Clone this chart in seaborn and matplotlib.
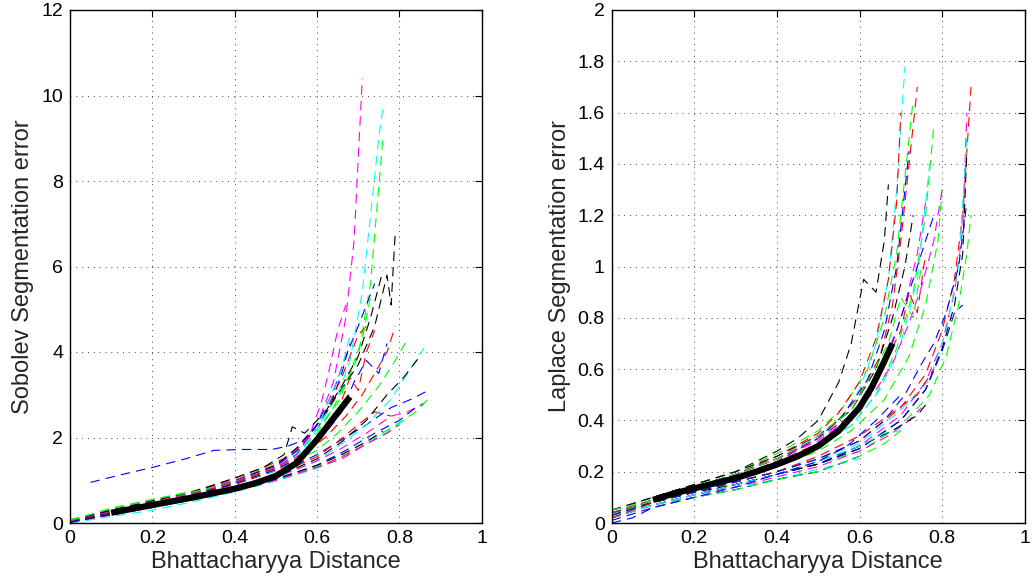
import numpy as np
import pandas as pd
import matplotlib
matplotlib.use("Agg")
import matplotlib.pyplot as plt
import seaborn as sns

# ---------------- data ----------------
x_ticks = [0, 0.2, 0.4, 0.6, 0.8, 1]
x_tick_labels = ["0", "0.2", "0.4", "0.6", "0.8", "1"]
sob_y_ticks = [0, 2, 4, 6, 8, 10, 12]
sob_y_tick_labels = ["0", "2", "4", "6", "8", "10", "12"]
lap_y_ticks = [0, 0.2, 0.4, 0.6, 0.8, 1, 1.2, 1.4, 1.6, 1.8, 2]
lap_y_tick_labels = ["0", "0.2", "0.4", "0.6", "0.8", "1", "1.2", "1.4", "1.6", "1.8", "2"]

x_label = "Bhattacharyya Distance"
sob_label = "Sobolev Segmentation error"
lap_label = "Laplace Segmentation error"

# Sobolev runs
sob_x = [
    [0.05, 0.12, 0.2, 0.28, 0.35, 0.42, 0.49, 0.53, 0.57, 0.6, 0.63, 0.66, 0.68],
    [0, 0.05, 0.1, 0.2, 0.3, 0.4, 0.5, 0.55, 0.6, 0.65, 0.7, 0.73, 0.76],
    [0, 0.1, 0.2, 0.3, 0.4, 0.47, 0.53, 0.58, 0.62, 0.66, 0.7, 0.72],
    [0, 0.1, 0.2, 0.3, 0.4, 0.5, 0.56, 0.6, 0.65, 0.68, 0.71, 0.73, 0.75, 0.76],
    [0, 0.1, 0.2, 0.3, 0.4, 0.5, 0.55, 0.6, 0.64, 0.67, 0.69, 0.7, 0.71],
    [0, 0.1, 0.2, 0.3, 0.4, 0.5, 0.55, 0.6, 0.65, 0.7, 0.74, 0.77, 0.78, 0.79],
    [0, 0.1, 0.2, 0.3, 0.4, 0.5, 0.56, 0.6, 0.64, 0.67, 0.7, 0.72, 0.74],
    [0, 0.1, 0.2, 0.3, 0.4, 0.5, 0.55, 0.6, 0.64, 0.68, 0.71, 0.73],
    [0, 0.1, 0.2, 0.3, 0.4, 0.5, 0.56, 0.62, 0.67, 0.71, 0.74, 0.77, 0.79],
    [0, 0.1, 0.2, 0.3, 0.4, 0.5, 0.56, 0.6, 0.63, 0.66, 0.68],
    [0, 0.1, 0.2, 0.3, 0.4, 0.5, 0.55, 0.58, 0.61, 0.63, 0.65, 0.67],
    [0, 0.1, 0.2, 0.3, 0.4, 0.47, 0.52, 0.54, 0.57, 0.62, 0.66, 0.7, 0.73, 0.76],
    [0, 0.1, 0.2, 0.3, 0.4, 0.5, 0.6, 0.66, 0.72, 0.78, 0.83, 0.87],
    [0, 0.1, 0.2, 0.3, 0.4, 0.5, 0.6, 0.65, 0.7, 0.75, 0.79, 0.82],
    [0, 0.1, 0.2, 0.3, 0.4, 0.5, 0.6, 0.65, 0.7, 0.74, 0.78],
    [0, 0.1, 0.2, 0.3, 0.4, 0.5, 0.6, 0.66, 0.72, 0.78, 0.82, 0.86],
    [0, 0.1, 0.2, 0.3, 0.4, 0.5, 0.6, 0.66, 0.72, 0.78, 0.82, 0.84],
    [0, 0.1, 0.2, 0.3, 0.4, 0.5, 0.6, 0.66, 0.72, 0.77, 0.81, 0.85],
    [0, 0.1, 0.2, 0.3, 0.4, 0.5, 0.6, 0.67, 0.74, 0.8, 0.84, 0.86],
    [0, 0.1, 0.2, 0.3, 0.4, 0.5, 0.6, 0.68, 0.75, 0.8, 0.84, 0.87],
    [0, 0.1, 0.2, 0.3, 0.4, 0.5, 0.6, 0.66, 0.72, 0.77, 0.8],
    [0, 0.1, 0.2, 0.3, 0.4, 0.5, 0.6, 0.67, 0.73, 0.78, 0.82],
    [0, 0.1, 0.2, 0.3, 0.4, 0.5, 0.6, 0.66, 0.72, 0.76],
    [0, 0.1, 0.2, 0.3, 0.4, 0.5, 0.6, 0.66, 0.72, 0.76],
    [0, 0.1, 0.2, 0.3, 0.4, 0.5, 0.56, 0.61, 0.65, 0.68, 0.7, 0.72, 0.74],
    [0, 0.1, 0.2, 0.3, 0.4, 0.5, 0.57, 0.62, 0.66, 0.69, 0.72, 0.75, 0.77],
]
sob_y = [
    [0.95, 1.12, 1.3, 1.5, 1.7, 1.72, 1.72, 1.8, 1.95, 2.2, 2.7, 3.5, 4.2],
    [0.08, 0.2, 0.33, 0.55, 0.75, 1.0, 1.38, 1.7, 2.2, 2.8, 3.9, 5.6, 9.0],
    [0.02, 0.28, 0.5, 0.72, 1.05, 1.3, 1.55, 2.0, 2.6, 3.4, 4.4, 4.6],
    [0.03, 0.26, 0.47, 0.68, 0.95, 1.28, 1.65, 2.2, 3.0, 3.8, 5.4, 7.2, 9.0, 9.7],
    [0.05, 0.3, 0.5, 0.72, 1.0, 1.35, 1.7, 2.3, 3.3, 4.8, 6.6, 8.5, 10.4],
    [0.04, 0.27, 0.49, 0.7, 0.98, 1.35, 1.75, 2.3, 3.0, 3.7, 4.6, 5.8, 5.1, 6.8],
    [0.03, 0.25, 0.46, 0.67, 0.95, 1.32, 1.75, 2.3, 3.1, 3.9, 4.6, 5.1, 5.6],
    [0.05, 0.27, 0.48, 0.7, 0.97, 1.3, 1.6, 2.1, 2.7, 3.5, 4.3, 5.3],
    [0.03, 0.24, 0.44, 0.65, 0.9, 1.22, 1.55, 2.0, 2.5, 3.0, 3.5, 4.0, 4.6],
    [0.02, 0.25, 0.46, 0.68, 0.96, 1.3, 1.7, 2.2, 2.9, 3.6, 4.4],
    [0.04, 0.29, 0.5, 0.7, 0.97, 1.3, 1.6, 2.0, 2.8, 3.6, 4.5, 5.1],
    [0.05, 0.3, 0.52, 0.74, 1.05, 1.3, 1.6, 2.25, 2.1, 2.6, 3.2, 3.9, 4.8, 5.9],
    [0.02, 0.22, 0.4, 0.6, 0.84, 1.12, 1.6, 1.95, 2.3, 2.7, 2.9, 3.1],
    [0.05, 0.35, 0.55, 0.73, 0.95, 1.22, 1.7, 2.1, 2.6, 3.2, 3.8, 4.3],
    [0.03, 0.23, 0.42, 0.62, 0.86, 1.12, 1.55, 1.9, 2.3, 2.6, 2.5],
    [0.02, 0.2, 0.38, 0.58, 0.8, 1.05, 1.45, 1.85, 2.3, 2.9, 3.5, 4.1],
    [0.02, 0.21, 0.39, 0.59, 0.81, 1.07, 1.45, 1.75, 2.1, 2.5, 2.6, 2.7],
    [0.03, 0.22, 0.4, 0.6, 0.82, 1.08, 1.5, 1.9, 2.4, 3.0, 3.4, 3.9],
    [0.01, 0.2, 0.37, 0.56, 0.78, 1.02, 1.35, 1.7, 2.1, 2.4, 2.7, 2.8],
    [0.04, 0.22, 0.38, 0.57, 0.78, 1.02, 1.33, 1.7, 2.05, 2.35, 2.6, 2.9],
    [0.02, 0.2, 0.37, 0.55, 0.76, 1.0, 1.3, 1.55, 1.85, 2.1, 2.3],
    [0.0, 0.15, 0.3, 0.5, 0.73, 0.98, 1.28, 1.55, 1.9, 2.2, 2.45],
    [0.01, 0.19, 0.36, 0.55, 0.77, 1.0, 1.3, 1.5, 1.85, 2.05],
    [0.02, 0.2, 0.38, 0.57, 0.79, 1.03, 1.35, 1.6, 1.9, 2.15],
    [0.03, 0.26, 0.47, 0.68, 0.95, 1.28, 1.6, 2.05, 2.6, 3.4, 3.1, 4.0, 4.5],
    [0.02, 0.24, 0.45, 0.66, 0.92, 1.25, 1.6, 2.1, 2.6, 3.3, 3.8, 3.5, 4.2],
]
sob_colors = ["b", "g", "r", "c", "m", "k", "b", "g", "r", "c", "m", "k",
              "b", "g", "r", "c", "m", "k", "b", "g", "r", "c", "m", "k", "r", "b"]
sob_mean_x = [0.1, 0.15, 0.2, 0.25, 0.3, 0.35, 0.4, 0.45, 0.5, 0.55, 0.6, 0.64, 0.68]
sob_mean_y = [0.24, 0.33, 0.42, 0.51, 0.6, 0.7, 0.8, 0.93, 1.1, 1.4, 1.95, 2.45, 2.95]

# Laplace runs
lap_x = [
    [0, 0.1, 0.2, 0.3, 0.4, 0.45, 0.5, 0.55, 0.58, 0.61, 0.64, 0.66, 0.67],
    [0, 0.1, 0.2, 0.3, 0.4, 0.5, 0.55, 0.6, 0.64, 0.67, 0.69, 0.71],
    [0, 0.1, 0.2, 0.3, 0.4, 0.5, 0.55, 0.6, 0.65, 0.68, 0.7, 0.72, 0.74],
    [0, 0.1, 0.2, 0.3, 0.4, 0.5, 0.56, 0.62, 0.66, 0.69, 0.71, 0.73],
    [0, 0.1, 0.2, 0.3, 0.4, 0.5, 0.56, 0.62, 0.66, 0.69, 0.71, 0.72],
    [0, 0.1, 0.2, 0.3, 0.4, 0.5, 0.55, 0.6, 0.64, 0.67, 0.69, 0.7],
    [0, 0.1, 0.2, 0.3, 0.4, 0.5, 0.56, 0.62, 0.67, 0.71, 0.74, 0.76],
    [0, 0.1, 0.2, 0.3, 0.4, 0.5, 0.58, 0.64, 0.69, 0.73, 0.76, 0.78],
    [0, 0.1, 0.2, 0.3, 0.4, 0.5, 0.58, 0.65, 0.7, 0.74, 0.77],
    [0, 0.1, 0.2, 0.3, 0.4, 0.5, 0.58, 0.64, 0.68, 0.71, 0.73],
    [0, 0.1, 0.2, 0.3, 0.4, 0.5, 0.58, 0.64, 0.69, 0.73, 0.76, 0.78],
    [0, 0.1, 0.2, 0.3, 0.4, 0.5, 0.58, 0.66, 0.72, 0.76, 0.79, 0.8],
    [0, 0.1, 0.2, 0.3, 0.4, 0.5, 0.6, 0.7, 0.76, 0.8, 0.83, 0.85, 0.86, 0.87],
    [0, 0.1, 0.2, 0.3, 0.4, 0.5, 0.6, 0.7, 0.76, 0.8, 0.83, 0.85, 0.86],
    [0, 0.1, 0.2, 0.3, 0.4, 0.5, 0.6, 0.7, 0.77, 0.81, 0.84, 0.86],
    [0, 0.1, 0.2, 0.3, 0.4, 0.5, 0.6, 0.7, 0.76, 0.8, 0.83, 0.85, 0.86],
    [0, 0.1, 0.2, 0.3, 0.4, 0.5, 0.6, 0.7, 0.77, 0.81, 0.84, 0.86, 0.87],
    [0, 0.1, 0.2, 0.3, 0.4, 0.5, 0.6, 0.7, 0.76, 0.8, 0.83, 0.85],
    [0, 0.1, 0.2, 0.3, 0.4, 0.5, 0.55, 0.6],
    [0, 0.1, 0.2, 0.3, 0.4, 0.5, 0.55, 0.6],
    [0, 0.1, 0.2, 0.3, 0.4, 0.5, 0.6, 0.67, 0.72, 0.75],
    [0, 0.1, 0.2, 0.3, 0.4, 0.5, 0.6, 0.66, 0.7],
    [0, 0.1, 0.2, 0.3, 0.4, 0.5, 0.6, 0.68, 0.74, 0.77],
    [0, 0.1, 0.2, 0.3, 0.4, 0.5, 0.6, 0.68, 0.74, 0.78],
    [0, 0.1, 0.2, 0.3, 0.4, 0.5, 0.6, 0.66, 0.7],
    [0, 0.05, 0.1, 0.2, 0.3, 0.4, 0.5, 0.57, 0.64, 0.7],
    [0, 0.1, 0.2, 0.3, 0.4, 0.5, 0.58, 0.64, 0.68, 0.72, 0.75, 0.78, 0.8],
    [0, 0.1, 0.2, 0.3, 0.4, 0.5, 0.58, 0.63, 0.67, 0.7, 0.73, 0.75],
    [0, 0.1, 0.2, 0.3, 0.4, 0.5, 0.6, 0.66, 0.71, 0.75, 0.78, 0.81, 0.84, 0.86],
    [0, 0.1, 0.2, 0.3, 0.4, 0.5, 0.57, 0.62, 0.66, 0.7, 0.72, 0.74, 0.76],
]
lap_y = [
    [0.05, 0.1, 0.15, 0.2, 0.28, 0.33, 0.4, 0.55, 0.7, 0.95, 0.9, 1.1, 1.32],
    [0.03, 0.09, 0.14, 0.19, 0.25, 0.33, 0.4, 0.52, 0.7, 0.95, 1.3, 1.78],
    [0.04, 0.09, 0.14, 0.19, 0.25, 0.33, 0.4, 0.5, 0.65, 0.85, 1.1, 1.4, 1.7],
    [0.05, 0.1, 0.15, 0.2, 0.27, 0.36, 0.45, 0.6, 0.8, 1.05, 1.35, 1.65],
    [0.02, 0.08, 0.13, 0.18, 0.24, 0.33, 0.42, 0.56, 0.75, 1.0, 1.3, 1.45],
    [0.03, 0.09, 0.14, 0.19, 0.26, 0.35, 0.43, 0.55, 0.72, 0.95, 1.25, 1.6],
    [0.03, 0.09, 0.14, 0.19, 0.25, 0.32, 0.39, 0.5, 0.65, 0.85, 1.05, 1.25],
    [0.04, 0.09, 0.14, 0.18, 0.23, 0.3, 0.38, 0.5, 0.68, 0.9, 1.2, 1.55],
    [0.02, 0.08, 0.13, 0.18, 0.23, 0.3, 0.38, 0.52, 0.7, 0.95, 1.4],
    [0.05, 0.1, 0.15, 0.2, 0.26, 0.34, 0.44, 0.6, 0.8, 1.0, 1.2],
    [0.03, 0.09, 0.14, 0.19, 0.25, 0.33, 0.42, 0.55, 0.75, 0.95, 1.1, 1.2],
    [0.05, 0.09, 0.13, 0.17, 0.22, 0.28, 0.36, 0.48, 0.65, 0.85, 1.1, 1.3],
    [0.03, 0.08, 0.12, 0.16, 0.2, 0.25, 0.32, 0.45, 0.58, 0.75, 0.95, 1.2, 1.45, 1.7],
    [0.02, 0.07, 0.11, 0.15, 0.19, 0.24, 0.3, 0.42, 0.55, 0.7, 0.9, 1.15, 1.6],
    [0.03, 0.08, 0.12, 0.16, 0.2, 0.25, 0.31, 0.44, 0.56, 0.75, 1.0, 1.5],
    [0.02, 0.07, 0.11, 0.15, 0.19, 0.23, 0.29, 0.4, 0.52, 0.68, 0.85, 1.05, 1.45],
    [0.04, 0.08, 0.12, 0.15, 0.19, 0.23, 0.28, 0.38, 0.5, 0.65, 0.85, 1.05, 1.2],
    [0.02, 0.07, 0.11, 0.15, 0.19, 0.23, 0.29, 0.4, 0.52, 0.67, 0.82, 0.85],
    [0.02, 0.07, 0.11, 0.14, 0.17, 0.21, 0.23, 0.25],
    [0.01, 0.06, 0.1, 0.13, 0.17, 0.2, 0.23, 0.26],
    [0.02, 0.07, 0.11, 0.14, 0.18, 0.22, 0.28, 0.34, 0.4, 0.45],
    [0.03, 0.07, 0.1, 0.13, 0.17, 0.2, 0.26, 0.31, 0.36],
    [0.04, 0.08, 0.12, 0.15, 0.19, 0.23, 0.3, 0.36, 0.42, 0.48],
    [0.03, 0.08, 0.12, 0.16, 0.2, 0.26, 0.34, 0.43, 0.5, 0.6],
    [0.02, 0.07, 0.11, 0.15, 0.19, 0.24, 0.3, 0.35, 0.36],
    [0.0, 0.02, 0.06, 0.1, 0.14, 0.19, 0.24, 0.3, 0.4, 0.5],
    [0.04, 0.09, 0.14, 0.19, 0.25, 0.33, 0.42, 0.52, 0.62, 0.78, 0.92, 1.1, 1.3],
    [0.03, 0.09, 0.14, 0.19, 0.25, 0.34, 0.44, 0.58, 0.7, 0.88, 0.8, 1.0],
    [0.03, 0.08, 0.12, 0.16, 0.2, 0.25, 0.32, 0.4, 0.5, 0.62, 0.7, 0.82, 1.0, 1.25],
    [0.02, 0.08, 0.13, 0.18, 0.24, 0.31, 0.4, 0.5, 0.62, 0.75, 0.9, 0.82, 1.05],
]
lap_colors = ["k", "c", "r", "g", "b", "r", "m", "g", "c", "k", "b", "g", "r",
              "m", "c", "k", "g", "b", "c", "b", "m", "g", "k", "r", "c", "b",
              "m", "g", "b", "r"]
lap_mean_x = [0.1, 0.15, 0.2, 0.25, 0.3, 0.35, 0.4, 0.45, 0.5, 0.55, 0.6, 0.63, 0.66, 0.68]
lap_mean_y = [0.09, 0.115, 0.135, 0.155, 0.175, 0.2, 0.228, 0.26, 0.3, 0.36, 0.45, 0.53, 0.63, 0.7]

# ---------------- plotting ----------------
sns.set_style("white")
plt.rcParams["font.family"] = ["Liberation Sans", "DejaVu Sans"]

MCOL = {"b": (0, 0, 1), "g": (0, 1, 0), "r": (1, 0, 0), "c": (0, 1, 1),
        "m": (1, 0, 1), "k": (0, 0, 0)}


def runs_frame(xs, ys):
    rows = []
    for i, (xx, yy) in enumerate(zip(xs, ys)):
        for a, b in zip(xx, yy):
            rows.append((f"run{i:02d}", a, b))
    return pd.DataFrame(rows, columns=["run", "x", "y"])


fig = plt.figure(figsize=(10.34, 5.83), dpi=100)
ax1 = fig.add_axes([70 / 1034, 60 / 583, 411.7 / 1034, 513 / 583])
ax2 = fig.add_axes([611.7 / 1034, 60 / 583, 413 / 1034, 513 / 583])

panels = [
    (ax1, sob_x, sob_y, sob_colors, sob_mean_x, sob_mean_y, (0, 12), sob_y_ticks, sob_y_tick_labels, sob_label),
    (ax2, lap_x, lap_y, lap_colors, lap_mean_x, lap_mean_y, (0, 2), lap_y_ticks, lap_y_tick_labels, lap_label),
]

for ax, xs, ys, cols, mx, my, ylim, yt, ytl, ylab in panels:
    df = runs_frame(xs, ys)
    pal = {f"run{i:02d}": MCOL[c] for i, c in enumerate(cols)}
    sns.lineplot(data=df, x="x", y="y", hue="run", palette=pal, estimator=None,
                 sort=False, legend=False, lw=0.8, linestyle=(0, (8.5, 5.5)), ax=ax, zorder=2)
    mdf = pd.DataFrame({"x": mx, "y": my})
    sns.lineplot(data=mdf, x="x", y="y", color="k", lw=4.5, estimator=None,
                 sort=False, ax=ax, zorder=5, solid_capstyle="butt")
    ax.set_xlim(0, 1)
    ax.set_ylim(*ylim)
    ax.set_xticks(x_ticks)
    ax.set_xticklabels(x_tick_labels)
    ax.set_yticks(yt)
    ax.set_yticklabels(ytl)
    ax.grid(True, color="#444444", linestyle=(0, (1, 5)), lw=0.7)
    ax.tick_params(direction="in", top=True, right=True, length=5, width=0.8,
                   labelsize=14, pad=5, colors="k")
    for s in ax.spines.values():
        s.set_color("k")
        s.set_linewidth(1.0)
    ax.set_xlabel(x_label, fontsize=17, labelpad=3)
    ax.set_ylabel(ylab, fontsize=17, labelpad=5)

fig.savefig("out.png", dpi=100)
